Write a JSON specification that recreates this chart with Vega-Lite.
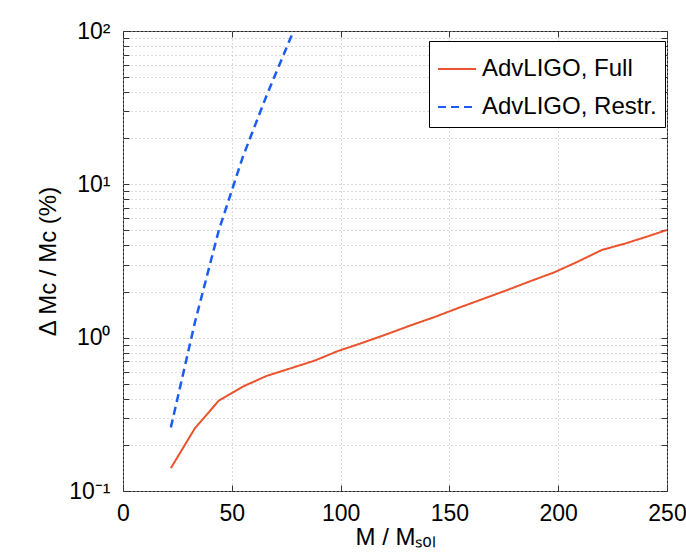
{
  "$schema": "https://vega.github.io/schema/vega-lite/v6.json",
  "width": 544,
  "height": 460,
  "autosize": {"type": "none"},
  "padding": {"left": 123, "top": 31, "right": 19, "bottom": 62},
  "background": "white",
  "config": {
    "font": "Liberation Sans",
    "view": {"stroke": "#222222", "strokeWidth": 1},
    "axis": {
      "domain": false,
      "labelFont": "Liberation Sans",
      "labelFontSize": 23,
      "labelColor": "black",
      "titleFont": "Liberation Sans",
      "titleFontSize": 24,
      "titleFontWeight": "normal",
      "titleColor": "black",
      "tickColor": "#333333",
      "tickSize": -6,
      "gridColor": "#b4b4b4",
      "gridDash": [1, 3],
      "gridWidth": 1
    },
    "legend": {
      "orient": "none",
      "legendX": 306,
      "legendY": 10,
      "strokeColor": "black",
      "fillColor": "white",
      "padding": 8,
      "symbolType": "stroke",
      "symbolSize": 1444,
      "symbolStrokeWidth": 2,
      "labelFont": "Liberation Sans",
      "labelFontSize": 24,
      "labelColor": "black",
      "labelOffset": 5,
      "labelLimit": 400,
      "rowPadding": 6
    }
  },
  "data": {
    "values": [
      {"series": "AdvLIGO, Full", "M": 22, "dM": 0.141},
      {"series": "AdvLIGO, Full", "M": 33, "dM": 0.256},
      {"series": "AdvLIGO, Full", "M": 44, "dM": 0.388},
      {"series": "AdvLIGO, Full", "M": 55, "dM": 0.479},
      {"series": "AdvLIGO, Full", "M": 66, "dM": 0.563},
      {"series": "AdvLIGO, Full", "M": 77, "dM": 0.631},
      {"series": "AdvLIGO, Full", "M": 88, "dM": 0.708},
      {"series": "AdvLIGO, Full", "M": 99, "dM": 0.82},
      {"series": "AdvLIGO, Full", "M": 110, "dM": 0.925},
      {"series": "AdvLIGO, Full", "M": 121, "dM": 1.05},
      {"series": "AdvLIGO, Full", "M": 132, "dM": 1.2},
      {"series": "AdvLIGO, Full", "M": 143, "dM": 1.36},
      {"series": "AdvLIGO, Full", "M": 154, "dM": 1.56},
      {"series": "AdvLIGO, Full", "M": 165, "dM": 1.78},
      {"series": "AdvLIGO, Full", "M": 176, "dM": 2.03},
      {"series": "AdvLIGO, Full", "M": 187, "dM": 2.33},
      {"series": "AdvLIGO, Full", "M": 198, "dM": 2.66},
      {"series": "AdvLIGO, Full", "M": 209, "dM": 3.13},
      {"series": "AdvLIGO, Full", "M": 220, "dM": 3.73},
      {"series": "AdvLIGO, Full", "M": 231, "dM": 4.12},
      {"series": "AdvLIGO, Full", "M": 242, "dM": 4.62},
      {"series": "AdvLIGO, Full", "M": 250, "dM": 5.04},
      {"series": "AdvLIGO, Restr.", "M": 22, "dM": 0.26},
      {"series": "AdvLIGO, Restr.", "M": 33, "dM": 1.25},
      {"series": "AdvLIGO, Restr.", "M": 44, "dM": 5.0},
      {"series": "AdvLIGO, Restr.", "M": 55, "dM": 15},
      {"series": "AdvLIGO, Restr.", "M": 66, "dM": 38},
      {"series": "AdvLIGO, Restr.", "M": 77, "dM": 90},
      {"series": "AdvLIGO, Restr.", "M": 88, "dM": 200}
    ]
  },
  "resolve": {"axis": {"x": "independent", "y": "independent"}},
  "layer": [
    {
      "transform": [{"filter": "datum.series == 'AdvLIGO, Full'"}],
      "mark": {"type": "line", "strokeWidth": 2, "clip": true},
      "encoding": {
        "x": {
          "field": "M", "type": "quantitative",
          "scale": {"domain": [0, 250], "nice": false, "zero": false},
          "axis": {
            "orient": "bottom",
            "values": [0, 50, 100, 150, 200, 250],
            "grid": true,
            "labelPadding": 17,
            "labelFlush": false,
            "title": "M / Mₛₒₗ",
            "titlePadding": 0
          }
        },
        "y": {
          "field": "dM", "type": "quantitative",
          "scale": {"type": "log", "domain": [0.1, 100], "nice": false},
          "axis": {
            "orient": "left",
            "values": [0.1, 0.2, 0.3, 0.4, 0.5, 0.6, 0.7, 0.8, 0.9, 1, 2, 3, 4, 5, 6, 7, 8, 9, 10, 20, 30, 40, 50, 60, 70, 80, 90, 100],
            "grid": true,
            "labelOverlap": false,
            "labelExpr": "datum.value == 100 ? '10²' : datum.value == 10 ? '10¹' : datum.value == 1 ? '10⁰' : datum.value == 0.1 ? '10⁻¹' : ''",
            "labelPadding": 19,
            "labelFlush": false,
            "title": "Δ Mc / Mc (%)",
            "titlePadding": 8
          }
        },
        "color": {
          "field": "series", "type": "nominal",
          "scale": {"domain": ["AdvLIGO, Full", "AdvLIGO, Restr."], "range": ["#ea532d", "#1a5cf5"]},
          "legend": {"title": null}
        },
        "strokeDash": {
          "field": "series", "type": "nominal",
          "scale": {"domain": ["AdvLIGO, Full", "AdvLIGO, Restr."], "range": [[1, 0], [8, 5]]},
          "legend": {"title": null}
        }
      }
    },
    {
      "transform": [{"filter": "datum.series == 'AdvLIGO, Restr.'"}],
      "mark": {"type": "line", "strokeWidth": 2.5, "clip": true},
      "encoding": {
        "x": {
          "field": "M", "type": "quantitative",
          "axis": {
            "orient": "top",
            "values": [0, 50, 100, 150, 200, 250],
            "grid": false,
            "labels": false,
            "title": null
          }
        },
        "y": {
          "field": "dM", "type": "quantitative",
          "axis": {
            "orient": "right",
            "values": [0.1, 0.2, 0.3, 0.4, 0.5, 0.6, 0.7, 0.8, 0.9, 1, 2, 3, 4, 5, 6, 7, 8, 9, 10, 20, 30, 40, 50, 60, 70, 80, 90, 100],
            "grid": false,
            "labels": false,
            "title": null
          }
        },
        "color": {"field": "series", "type": "nominal"},
        "strokeDash": {"field": "series", "type": "nominal"}
      }
    }
  ]
}
